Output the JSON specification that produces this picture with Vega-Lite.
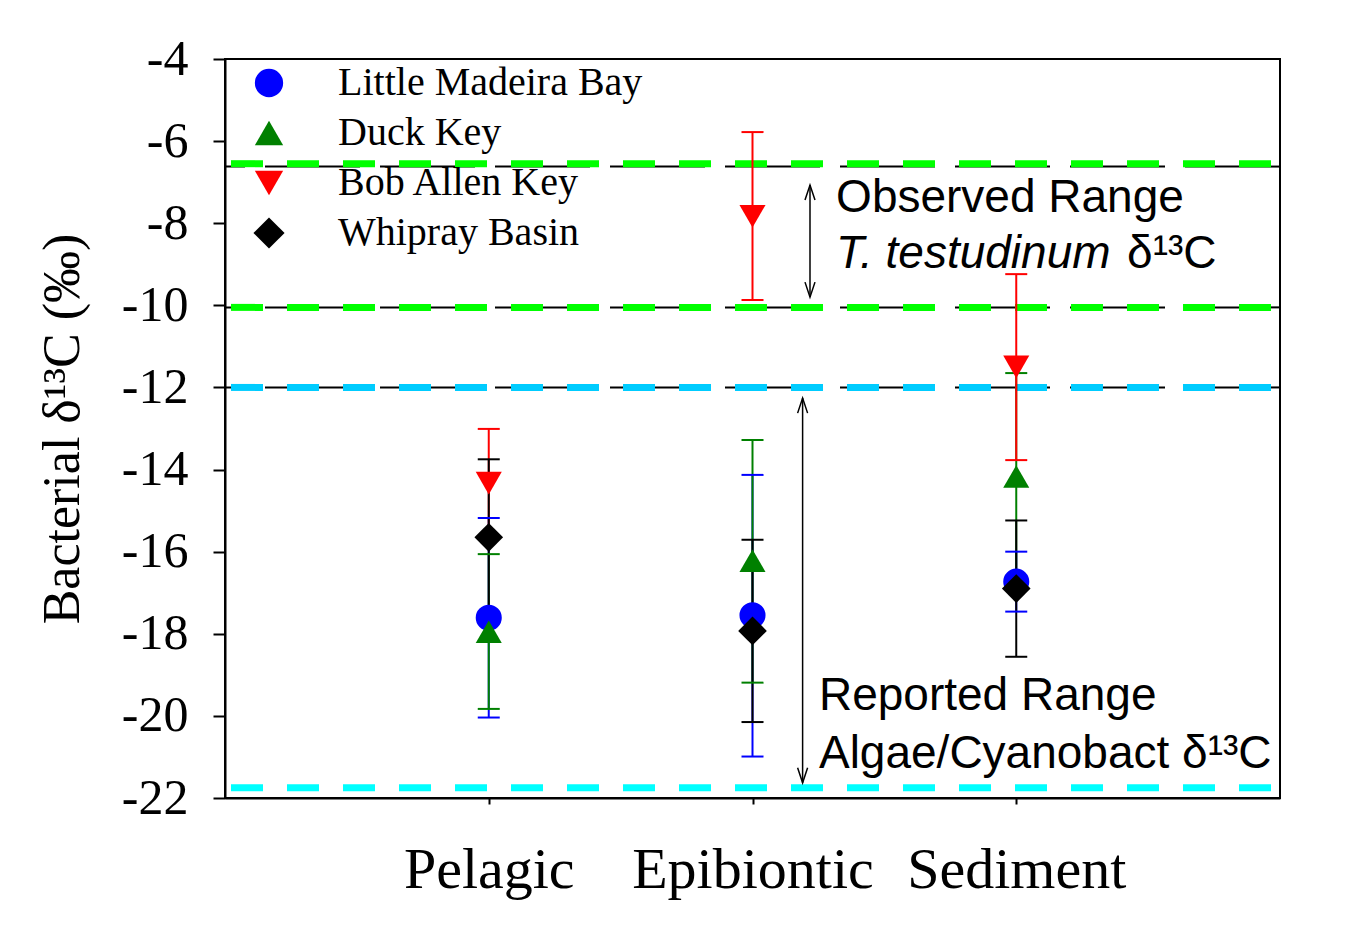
{
  "$schema": "https://vega.github.io/schema/vega-lite/v6.json",
  "width": 1055,
  "height": 739,
  "autosize": {"type": "none"},
  "padding": {"left": 225, "top": 59, "right": 89, "bottom": 145},
  "background": "white",
  "config": {
    "view": {"stroke": "black", "strokeWidth": 2},
    "axis": {"grid": false, "domainColor": "black", "domainWidth": 2, "tickColor": "black", "tickWidth": 2, "labelColor": "black", "titleColor": "black", "labelFont": "Liberation Serif", "titleFont": "Liberation Serif", "titleFontWeight": "normal", "labelLimit": 600},
    "legend": {"orient": "top-left", "offset": 0, "padding": 4, "labelFont": "Liberation Serif", "labelFontSize": 40, "labelColor": "black", "labelOffset": 49, "rowPadding": 10, "symbolSize": 800, "symbolOffset": 20, "symbolStrokeWidth": 0, "labelLimit": 600}
  },
  "layer": [
    {
      "data": {"values": [{"v": -6.62}, {"v": -10.05}, {"v": -12.0}]},
      "mark": {"type": "rule", "color": "black", "strokeWidth": 2, "strokeDash": [95, 20], "strokeDashOffset": 0},
      "encoding": {"y": {"field": "v", "type": "quantitative", "scale": {"domain": [-22, -4], "nice": false, "zero": false}}}
    },
    {
      "data": {"values": [{"v": -6.55}, {"v": -10.05}]},
      "mark": {"type": "rule", "color": "#00ff00", "strokeWidth": 7, "strokeDash": [32, 24], "strokeDashOffset": 47},
      "encoding": {"y": {"field": "v", "type": "quantitative"}}
    },
    {
      "data": {"values": [{"v": -12.0}]},
      "mark": {"type": "rule", "color": "#00ccff", "strokeWidth": 7, "strokeDash": [32, 24], "strokeDashOffset": 47},
      "encoding": {"y": {"field": "v", "type": "quantitative"}}
    },
    {
      "data": {"values": [{"v": -21.75}]},
      "mark": {"type": "rule", "color": "#00ffff", "strokeWidth": 7, "strokeDash": [32, 24], "strokeDashOffset": 47},
      "encoding": {"y": {"field": "v", "type": "quantitative"}}
    },
    {
      "data": {"name": "pts"},
      "mark": {"type": "rule", "strokeWidth": 2},
      "encoding": {
        "x": {"field": "cat", "type": "quantitative"},
        "y": {"field": "lo", "type": "quantitative"},
        "y2": {"field": "hi"},
        "color": {"field": "site", "type": "nominal", "scale": {"domain": ["Little Madeira Bay", "Duck Key", "Bob Allen Key", "Whipray Basin"], "range": ["#0000ff", "#008000", "#ff0000", "#000000"]}}
      }
    },
    {
      "data": {"name": "pts"},
      "mark": {"type": "tick", "orient": "horizontal", "size": 22, "thickness": 2, "opacity": 1},
      "encoding": {
        "x": {"field": "cat", "type": "quantitative"},
        "y": {"field": "lo", "type": "quantitative"},
        "color": {"field": "site", "type": "nominal"}
      }
    },
    {
      "data": {"name": "pts"},
      "mark": {"type": "tick", "orient": "horizontal", "size": 22, "thickness": 2, "opacity": 1},
      "encoding": {
        "x": {"field": "cat", "type": "quantitative"},
        "y": {"field": "hi", "type": "quantitative"},
        "color": {"field": "site", "type": "nominal"}
      }
    },
    {
      "data": {"name": "pts"},
      "mark": {"type": "point", "filled": true, "opacity": 1, "strokeWidth": 0, "size": 680},
      "encoding": {
        "x": {"field": "cat", "type": "quantitative", "scale": {"domain": [0, 4], "nice": false, "zero": false},
          "axis": {"values": [1, 2, 3], "labelExpr": "datum.value == 1 ? 'Pelagic' : datum.value == 2 ? 'Epibiontic' : 'Sediment'", "title": null, "labelFontSize": 58, "tickSize": 6, "labelPadding": 83, "labelBaseline": "alphabetic", "labelAlign": "center"}},
        "y": {"field": "mean", "type": "quantitative",
          "axis": {"values": [-22, -20, -18, -16, -14, -12, -10, -8, -6, -4], "labelExpr": "'' + datum.value", "title": "Bacterial δ¹³C (‰)", "titleFontSize": 52, "titlePadding": 32, "labelFontSize": 50, "tickSize": 12, "labelPadding": 25}},
        "color": {"field": "site", "type": "nominal", "title": null},
        "shape": {"field": "site", "type": "nominal", "title": null, "scale": {"domain": ["Little Madeira Bay", "Duck Key", "Bob Allen Key", "Whipray Basin"], "range": ["circle", "triangle-up", "triangle-down", "M-1.1,0L0,-1.1L1.1,0L0,1.1Z"]}}
      }
    },
    {
      "data": {"values": [{"x": 2.218, "a": -7.07, "b": -9.8}, {"x": 2.19, "a": -12.26, "b": -21.63}]},
      "mark": {"type": "rule", "color": "black", "strokeWidth": 1.5},
      "encoding": {"x": {"field": "x", "type": "quantitative"}, "y": {"field": "a", "type": "quantitative"}, "y2": {"field": "b"}}
    },
    {
      "data": {"values": [{"x": 2.218, "a": -7.07}, {"x": 2.19, "a": -12.26}]},
      "mark": {"type": "point", "shape": "M-1,3L0,0L1,3", "size": 100, "filled": false, "color": "black", "strokeWidth": 1.5, "opacity": 1},
      "encoding": {"x": {"field": "x", "type": "quantitative"}, "y": {"field": "a", "type": "quantitative"}}
    },
    {
      "data": {"values": [{"x": 2.218, "b": -9.8}, {"x": 2.19, "b": -21.63}]},
      "mark": {"type": "point", "shape": "M-1,-3L0,0L1,-3", "size": 100, "filled": false, "color": "black", "strokeWidth": 1.5, "opacity": 1},
      "encoding": {"x": {"field": "x", "type": "quantitative"}, "y": {"field": "b", "type": "quantitative"}}
    },
    {
      "data": {"values": [
        {"x": 2.317, "y": -7.73, "t": "Observed Range"},
        {"x": 3.42, "y": -9.09, "t": "δ¹³C"},
        {"x": 2.252, "y": -19.85, "t": "Reported Range"},
        {"x": 2.252, "y": -21.27, "t": "Algae/Cyanobact δ¹³C"}
      ]},
      "mark": {"type": "text", "align": "left", "baseline": "alphabetic", "font": "Liberation Sans", "fontSize": 46, "color": "black"},
      "encoding": {"x": {"field": "x", "type": "quantitative"}, "y": {"field": "y", "type": "quantitative"}, "text": {"field": "t"}}
    },
    {
      "data": {"values": [{"x": 2.317, "y": -9.09, "t": "T. testudinum"}]},
      "mark": {"type": "text", "align": "left", "baseline": "alphabetic", "font": "Liberation Sans", "fontSize": 46, "fontStyle": "italic", "color": "black"},
      "encoding": {"x": {"field": "x", "type": "quantitative"}, "y": {"field": "y", "type": "quantitative"}, "text": {"field": "t"}}
    }
  ],
  "datasets": {
    "pts": [
      {"site": "Little Madeira Bay", "cat": 1, "mean": -17.61, "lo": -20.04, "hi": -15.18},
      {"site": "Little Madeira Bay", "cat": 2, "mean": -17.55, "lo": -20.99, "hi": -14.13},
      {"site": "Little Madeira Bay", "cat": 3, "mean": -16.73, "lo": -17.46, "hi": -16.0},
      {"site": "Duck Key", "cat": 1, "mean": -17.95, "lo": -19.83, "hi": -16.06},
      {"site": "Duck Key", "cat": 2, "mean": -16.22, "lo": -19.19, "hi": -13.28},
      {"site": "Duck Key", "cat": 3, "mean": -14.17, "lo": -16.69, "hi": -11.65},
      {"site": "Bob Allen Key", "cat": 1, "mean": -14.33, "lo": -15.65, "hi": -13.01},
      {"site": "Bob Allen Key", "cat": 2, "mean": -7.83, "lo": -9.87, "hi": -5.78},
      {"site": "Bob Allen Key", "cat": 3, "mean": -11.5, "lo": -13.77, "hi": -9.24},
      {"site": "Whipray Basin", "cat": 1, "mean": -15.65, "lo": -17.55, "hi": -13.75},
      {"site": "Whipray Basin", "cat": 2, "mean": -17.93, "lo": -20.15, "hi": -15.71},
      {"site": "Whipray Basin", "cat": 3, "mean": -16.9, "lo": -18.56, "hi": -15.24}
    ]
  }
}
